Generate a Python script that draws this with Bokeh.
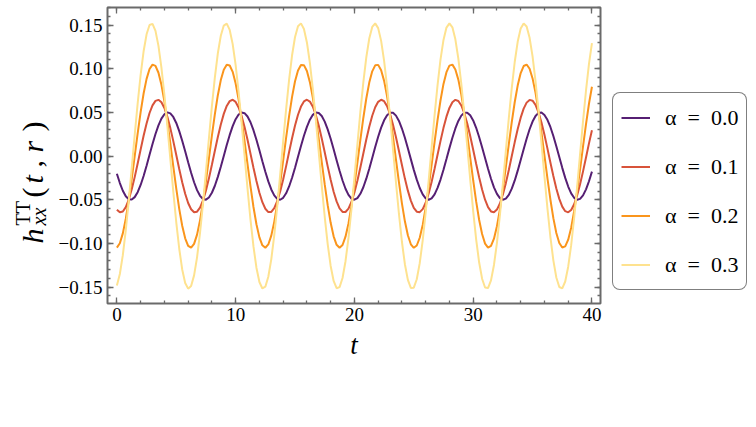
import math
from bokeh.plotting import figure
from bokeh.layouts import row
from bokeh.core.properties import value
from bokeh.models import (Range1d, LinearAxis, SingleIntervalTicker,
                          CustomJSTickFormatter, Legend, LegendItem)
from bokeh.embed import file_html
from bokeh.resources import INLINE

t = [0.0, 0.25, 0.5, 0.75, 1.0, 1.25, 1.5, 1.75, 2.0, 2.25,
     2.5, 2.75, 3.0, 3.25, 3.5, 3.75, 4.0, 4.25, 4.5, 4.75,
     5.0, 5.25, 5.5, 5.75, 6.0, 6.25, 6.5, 6.75, 7.0, 7.25,
     7.5, 7.75, 8.0, 8.25, 8.5, 8.75, 9.0, 9.25, 9.5, 9.75,
     10.0, 10.25, 10.5, 10.75, 11.0, 11.25, 11.5, 11.75, 12.0, 12.25,
     12.5, 12.75, 13.0, 13.25, 13.5, 13.75, 14.0, 14.25, 14.5, 14.75,
     15.0, 15.25, 15.5, 15.75, 16.0, 16.25, 16.5, 16.75, 17.0, 17.25,
     17.5, 17.75, 18.0, 18.25, 18.5, 18.75, 19.0, 19.25, 19.5, 19.75,
     20.0, 20.25, 20.5, 20.75, 21.0, 21.25, 21.5, 21.75, 22.0, 22.25,
     22.5, 22.75, 23.0, 23.25, 23.5, 23.75, 24.0, 24.25, 24.5, 24.75,
     25.0, 25.25, 25.5, 25.75, 26.0, 26.25, 26.5, 26.75, 27.0, 27.25,
     27.5, 27.75, 28.0, 28.25, 28.5, 28.75, 29.0, 29.25, 29.5, 29.75,
     30.0, 30.25, 30.5, 30.75, 31.0, 31.25, 31.5, 31.75, 32.0, 32.25,
     32.5, 32.75, 33.0, 33.25, 33.5, 33.75, 34.0, 34.25, 34.5, 34.75,
     35.0, 35.25, 35.5, 35.75, 36.0, 36.25, 36.5, 36.75, 37.0, 37.25,
     37.5, 37.75, 38.0, 38.25, 38.5, 38.75, 39.0, 39.25, 39.5, 39.75,
     40.0]

h_alpha00 = [-0.0202, -0.0309, -0.0397, -0.0460, -0.0494, -0.0498, -0.0470, -0.0413, -0.0331, -0.0228,
             -0.0110, 0.0014, 0.0138, 0.0253, 0.0352, 0.0429, 0.0479, 0.0500, 0.0489, 0.0448,
             0.0379, 0.0286, 0.0176, 0.0054, -0.0071, -0.0191, -0.0300, -0.0390, -0.0455, -0.0492,
             -0.0499, -0.0474, -0.0420, -0.0340, -0.0238, -0.0122, 0.0002, 0.0126, 0.0242, 0.0343,
             0.0422, 0.0475, 0.0499, 0.0491, 0.0453, 0.0387, 0.0296, 0.0187, 0.0066, -0.0059,
             -0.0180, -0.0290, -0.0382, -0.0450, -0.0490, -0.0500, -0.0478, -0.0426, -0.0348, -0.0248,
             -0.0133, -0.0009, 0.0115, 0.0232, 0.0334, 0.0416, 0.0472, 0.0498, 0.0493, 0.0458,
             0.0394, 0.0306, 0.0198, 0.0078, -0.0047, -0.0169, -0.0280, -0.0374, -0.0445, -0.0488,
             -0.0500, -0.0481, -0.0432, -0.0357, -0.0259, -0.0145, -0.0021, 0.0103, 0.0221, 0.0325,
             0.0409, 0.0468, 0.0497, 0.0495, 0.0463, 0.0402, 0.0315, 0.0209, 0.0090, -0.0035,
             -0.0158, -0.0270, -0.0366, -0.0439, -0.0485, -0.0500, -0.0484, -0.0438, -0.0365, -0.0269,
             -0.0156, -0.0034, 0.0091, 0.0210, 0.0316, 0.0402, 0.0463, 0.0495, 0.0497, 0.0467,
             0.0408, 0.0324, 0.0219, 0.0101, -0.0023, -0.0146, -0.0260, -0.0358, -0.0433, -0.0482,
             -0.0500, -0.0487, -0.0444, -0.0373, -0.0279, -0.0167, -0.0045, 0.0079, 0.0199, 0.0307,
             0.0395, 0.0459, 0.0494, 0.0498, 0.0471, 0.0415, 0.0333, 0.0230, 0.0113, -0.0011,
             -0.0135, -0.0250, -0.0349, -0.0427, -0.0478, -0.0500, -0.0490, -0.0450, -0.0381, -0.0288,
             -0.0178]

h_alpha01 = [-0.0614, -0.0644, -0.0634, -0.0584, -0.0498, -0.0381, -0.0241, -0.0085, 0.0076, 0.0232,
             0.0374, 0.0493, 0.0581, 0.0632, 0.0644, 0.0616, 0.0550, 0.0449, 0.0320, 0.0171,
             0.0012, -0.0148, -0.0299, -0.0431, -0.0537, -0.0609, -0.0643, -0.0637, -0.0591, -0.0508,
             -0.0394, -0.0255, -0.0100, 0.0061, 0.0218, 0.0362, 0.0483, 0.0574, 0.0629, 0.0645,
             0.0620, 0.0557, 0.0460, 0.0333, 0.0186, 0.0027, -0.0133, -0.0285, -0.0420, -0.0528,
             -0.0603, -0.0641, -0.0639, -0.0597, -0.0517, -0.0406, -0.0269, -0.0115, 0.0046, 0.0204,
             0.0349, 0.0473, 0.0567, 0.0626, 0.0645, 0.0624, 0.0565, 0.0470, 0.0346, 0.0201,
             0.0043, -0.0118, -0.0272, -0.0408, -0.0519, -0.0598, -0.0639, -0.0640, -0.0602, -0.0526,
             -0.0417, -0.0282, -0.0130, 0.0030, 0.0189, 0.0336, 0.0462, 0.0559, 0.0621, 0.0645,
             0.0628, 0.0572, 0.0481, 0.0359, 0.0215, 0.0058, -0.0103, -0.0258, -0.0396, -0.0510,
             -0.0592, -0.0637, -0.0642, -0.0607, -0.0535, -0.0429, -0.0296, -0.0145, 0.0015, 0.0174,
             0.0323, 0.0451, 0.0551, 0.0617, 0.0644, 0.0631, 0.0579, 0.0491, 0.0372, 0.0230,
             0.0073, -0.0088, -0.0243, -0.0383, -0.0500, -0.0585, -0.0634, -0.0644, -0.0613, -0.0543,
             -0.0440, -0.0310, -0.0160, 0.0000, 0.0160, 0.0310, 0.0440, 0.0543, 0.0612, 0.0643,
             0.0634, 0.0586, 0.0501, 0.0384, 0.0244, 0.0088, -0.0073, -0.0229, -0.0371, -0.0490,
             -0.0579, -0.0631, -0.0644, -0.0617, -0.0552, -0.0452, -0.0323, -0.0175, -0.0016, 0.0145,
             0.0296]

h_alpha02 = [-0.1048, -0.0998, -0.0885, -0.0718, -0.0506, -0.0262, -0.0002, 0.0259, 0.0503, 0.0716,
             0.0884, 0.0997, 0.1047, 0.1033, 0.0954, 0.0816, 0.0627, 0.0398, 0.0145, -0.0117,
             -0.0372, -0.0604, -0.0798, -0.0942, -0.1028, -0.1049, -0.1005, -0.0899, -0.0736, -0.0527,
             -0.0286, -0.0027, 0.0234, 0.0480, 0.0697, 0.0870, 0.0988, 0.1045, 0.1037, 0.0964,
             0.0831, 0.0646, 0.0421, 0.0170, -0.0092, -0.0348, -0.0583, -0.0781, -0.0931, -0.1022,
             -0.1050, -0.1012, -0.0911, -0.0753, -0.0549, -0.0310, -0.0052, 0.0210, 0.0458, 0.0678,
             0.0856, 0.0980, 0.1043, 0.1041, 0.0974, 0.0846, 0.0666, 0.0444, 0.0194, -0.0068,
             -0.0325, -0.0562, -0.0764, -0.0919, -0.1016, -0.1050, -0.1018, -0.0923, -0.0771, -0.0570,
             -0.0334, -0.0077, 0.0185, 0.0436, 0.0659, 0.0841, 0.0970, 0.1039, 0.1044, 0.0983,
             0.0861, 0.0685, 0.0467, 0.0219, -0.0042, -0.0301, -0.0541, -0.0747, -0.0907, -0.1010,
             -0.1050, -0.1024, -0.0935, -0.0788, -0.0591, -0.0357, -0.0101, 0.0161, 0.0413, 0.0639,
             0.0826, 0.0961, 0.1036, 0.1047, 0.0992, 0.0875, 0.0704, 0.0489, 0.0243, -0.0018,
             -0.0277, -0.0519, -0.0729, -0.0893, -0.1002, -0.1048, -0.1029, -0.0946, -0.0804, -0.0612,
             -0.0381, -0.0126, 0.0136, 0.0390, 0.0619, 0.0810, 0.0950, 0.1031, 0.1048, 0.1000,
             0.0889, 0.0723, 0.0511, 0.0268, 0.0008, -0.0252, -0.0497, -0.0711, -0.0880, -0.0995,
             -0.1047, -0.1034, -0.0957, -0.0820, -0.0631, -0.0404, -0.0151, 0.0111, 0.0366, 0.0599,
             0.0794]

h_alpha03 = [-0.1481, -0.1350, -0.1135, -0.0849, -0.0510, -0.0139, 0.0240, 0.0604, 0.0931, 0.1200,
             0.1394, 0.1501, 0.1514, 0.1433, 0.1262, 0.1013, 0.0701, 0.0345, -0.0033, -0.0408,
             -0.0758, -0.1061, -0.1298, -0.1453, -0.1518, -0.1488, -0.1366, -0.1159, -0.0879, -0.0544,
             -0.0175, 0.0204, 0.0571, 0.0902, 0.1177, 0.1378, 0.1494, 0.1516, 0.1444, 0.1282,
             0.1040, 0.0733, 0.0380, 0.0004, -0.0373, -0.0727, -0.1035, -0.1278, -0.1442, -0.1516,
             -0.1496, -0.1382, -0.1182, -0.0908, -0.0578, -0.0212, 0.0168, 0.0537, 0.0873, 0.1154,
             0.1363, 0.1487, 0.1519, 0.1455, 0.1301, 0.1066, 0.0764, 0.0415, 0.0040, -0.0338,
             -0.0695, -0.1008, -0.1258, -0.1430, -0.1513, -0.1501, -0.1396, -0.1204, -0.0937, -0.0611,
             -0.0247, 0.0132, 0.0503, 0.0843, 0.1130, 0.1346, 0.1479, 0.1519, 0.1465, 0.1319,
             0.1091, 0.0795, 0.0450, 0.0076, -0.0303, -0.0663, -0.0981, -0.1238, -0.1418, -0.1510,
             -0.1507, -0.1410, -0.1226, -0.0965, -0.0644, -0.0283, 0.0096, 0.0469, 0.0813, 0.1106,
             0.1330, 0.1471, 0.1520, 0.1474, 0.1337, 0.1116, 0.0826, 0.0484, 0.0112, -0.0267,
             -0.0630, -0.0953, -0.1216, -0.1404, -0.1505, -0.1511, -0.1423, -0.1247, -0.0993, -0.0677,
             -0.0318, 0.0060, 0.0435, 0.0782, 0.1080, 0.1311, 0.1461, 0.1519, 0.1483, 0.1354,
             0.1141, 0.0856, 0.0518, 0.0148, -0.0231, -0.0596, -0.0924, -0.1194, -0.1390, -0.1499,
             -0.1515, -0.1436, -0.1267, -0.1020, -0.0709, -0.0354, 0.0024, 0.0400, 0.0751, 0.1055,
             0.1293]

alpha_values = ["0.0", "0.1", "0.2", "0.3"]
series = [h_alpha00, h_alpha01, h_alpha02, h_alpha03]
colors = ["#561f73", "#d8533a", "#fa951c", "#fee28f"]

FRAME = "#6a6a6a"
SERIF = "Liberation Serif"

p = figure(frame_width=493, frame_height=296, output_backend="svg", toolbar_location=None,
           title=None, x_range=Range1d(-0.79, 40.72), y_range=Range1d(-0.1688, 0.1701),
           x_axis_type=None, y_axis_type=None,
           min_border_left=52, min_border_right=8,
           min_border_top=7, min_border_bottom=117)
p.xgrid.grid_line_color = None
p.ygrid.grid_line_color = None
p.outline_line_color = FRAME
p.outline_line_width = 2
p.background_fill_color = "white"
p.border_fill_color = "white"

x_ticker = SingleIntervalTicker(interval=10, num_minor_ticks=5)
y_ticker = SingleIntervalTicker(interval=0.05, num_minor_ticks=5)
y_format = CustomJSTickFormatter(
    code="return (tick < -1e-9 ? '\\u2212' : '') + Math.abs(tick).toFixed(2);")
no_labels = CustomJSTickFormatter(code="return '';")


def frame_axis(ticker, side, labels, formatter=None):
    # Mathematica style frame: ticks point inwards on all four sides
    ax = LinearAxis(ticker=ticker)
    if formatter is not None:
        ax.formatter = formatter
    ax.axis_line_color = None
    ax.major_tick_line_color = FRAME
    ax.minor_tick_line_color = FRAME
    ax.major_tick_line_width = 1.3
    ax.minor_tick_line_width = 1.3
    ax.major_tick_in = 6
    ax.major_tick_out = 0
    ax.minor_tick_in = 3
    ax.minor_tick_out = 0
    if labels:
        ax.major_label_text_font = SERIF
        ax.major_label_text_font_size = "19px"
        ax.major_label_text_color = "black"
        ax.major_label_standoff = 5
    else:
        ax.formatter = no_labels
        ax.major_label_text_font_size = "1px"
        ax.major_label_standoff = 0
    p.add_layout(ax, side)
    return ax


frame_axis(y_ticker, "left", True, y_format)
xb = frame_axis(x_ticker, "below", True)
xb.major_label_standoff = 4
xb.axis_label = "t"
xb.axis_label_text_font = SERIF
xb.axis_label_text_font_style = "italic"
xb.axis_label_text_font_size = "27px"
xb.axis_label_text_color = "black"
xb.axis_label_standoff = 6
frame_axis(x_ticker, "above", False)
frame_axis(y_ticker, "right", False)

for ys, col in zip(series, colors):
    p.line(t, ys, line_color=col, line_width=2)

# y axis title h^TT_xx(t, r), set piece by piece in a narrow strip left of the plot;
# the strip's frame lines up with the plot frame, so its y range is in page pixels
tf = figure(width=55, height=420, output_backend="svg", toolbar_location=None, title=None,
            x_range=Range1d(0, 55), y_range=Range1d(117, 413),
            x_axis_type=None, y_axis_type=None, min_border=0)
tf.outline_line_color = None
tf.background_fill_color = "white"
tf.border_fill_color = "white"


def tex(text, x, y, size, style="normal"):
    tf.text(x=[x], y=[y], text=[text], angle=math.pi / 2,
            text_font=value(SERIF), text_font_size=value(size),
            text_font_style=value(style), text_color="black",
            text_align=value("left"), text_baseline=value("alphabetic"))


tex("h", 32, 177, "30px", "italic")
tex("TT", 22, 195, "20px")
tex("xx", 38, 195, "20px", "italic")
tex("(", 32, 223, "30px")
tex("t", 32, 237, "30px", "italic")
tex(",", 32, 253, "30px")
tex("r", 32, 268, "30px", "italic")
tex(")", 32, 289, "30px")

# legend box in its own strip to the right of the plot; the key lines reuse the
# series but lie outside this strip's ranges, so only the legend shows
lf = figure(width=144, height=420, output_backend="svg", toolbar_location=None, title=None,
            x_range=Range1d(-3, -2), y_range=Range1d(0, 1),
            x_axis_type=None, y_axis_type=None, min_border=0)
lf.outline_line_color = None
lf.background_fill_color = "white"
lf.border_fill_color = "white"

items = []
for a, ys, col in zip(alpha_values, series, colors):
    key = lf.line(t, ys, line_color=col, line_width=2)
    items.append(LegendItem(label="α\u2002=\u2002" + a, renderers=[key]))

legend = Legend(items=items, location=(4, 13), orientation="vertical")
legend.label_text_font = SERIF
legend.label_text_font_size = "22px"
legend.label_text_color = "black"
legend.glyph_width = 29
legend.glyph_height = 33
legend.label_height = 33
legend.spacing = 16
legend.padding = 8
legend.margin = 0
legend.label_standoff = 15
legend.border_line_color = "black"
legend.border_line_width = 1
legend.background_fill_color = "white"
legend.background_fill_alpha = 1
if "border_radius" in Legend.properties():
    legend.border_radius = 8
lf.add_layout(legend)

layout = row(tf, p, lf)
open("out.html", "w", encoding="utf-8").write(file_html(layout, INLINE))
